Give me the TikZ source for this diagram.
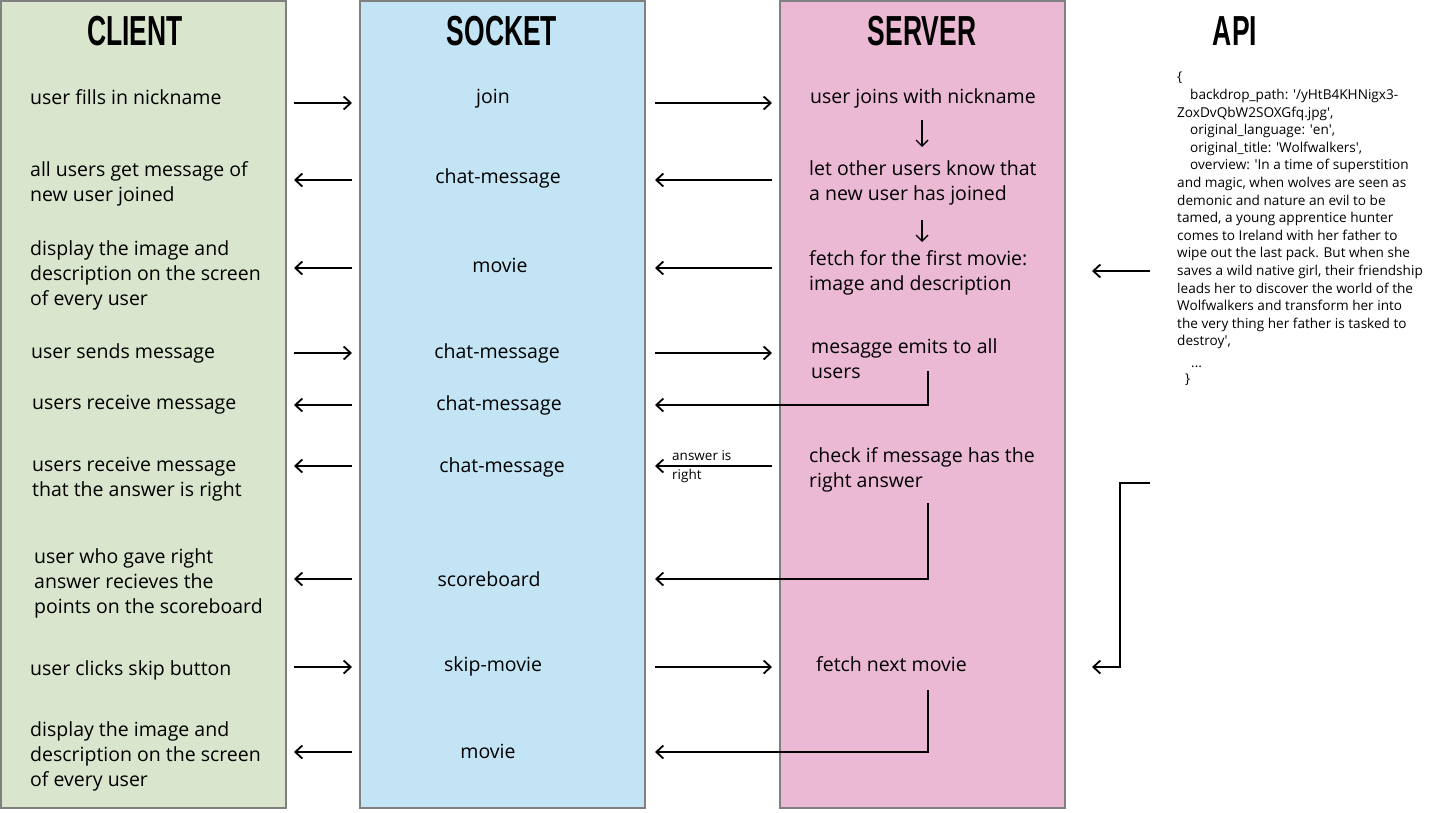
\documentclass[tikz,border=0pt]{standalone}
\usepackage{fontspec}
\setmainfont{Open Sans}
\newfontfamily\headfont[FakeStretch=0.63]{Liberation Sans}
\usetikzlibrary{positioning,arrows.meta}
\definecolor{clientgreen}{RGB}{217,229,204}
\definecolor{socketblue}{RGB}{194,228,244}
\definecolor{serverpink}{RGB}{235,185,212}
\definecolor{lanegray}{RGB}{128,128,128}
\tikzstyle{lane}=[rectangle, draw=lanegray, line width=1.5pt, outer sep=0pt, inner sep=0pt,
                  minimum width=285pt, minimum height=807pt]
\tikzstyle{ltitle}=[anchor=base, inner sep=0pt, font=\headfont\bfseries\fontsize{42}{42}\selectfont]
\tikzstyle{ltext}=[anchor=base west, inner sep=0pt, align=left, font=\fontsize{19.5}{25}\selectfont]
\tikzstyle{slabel}=[anchor=base, inner sep=0pt, font=\fontsize{19.5}{25}\selectfont]
\tikzstyle{apitext}=[anchor=base west, inner sep=0pt, align=left, font=\fontsize{13.6}{17.6}\selectfont]
\tikzstyle{smalltext}=[anchor=base west, inner sep=0pt, align=left, font=\fontsize{13.5}{19}\selectfont]
\tikzstyle{parrow}=[-{Straight Barb[length=7pt,width=13pt]}, line width=1.8pt]
\tikzstyle{darrow}=[-{Straight Barb[length=6pt,width=12pt]}, line width=1.4pt]

\begin{document}
\begin{tikzpicture}[x=1pt, y=-1pt]
\useasboundingbox (0,0) rectangle (1431,812);

\node (CLNT) [lane, fill=clientgreen, anchor=north west] at (1,1) {};
\node (SCKT) [lane, fill=socketblue, right=74pt of CLNT] {};
\node (SRVR) [lane, fill=serverpink, right=135pt of SCKT] {};

\node (CLNTt) [ltitle] at (135,45) {CLIENT};
\node (SCKTt) [ltitle] at (502,45) {SOCKET};
\node (SRVRt) [ltitle] at (922,45) {SERVER};
\node (APIt) [ltitle] at (1235,45) {API};

\node (CL1) [ltext] at (30,104) {user fills in nickname};
\node (CL2) [ltext] at (30,201) {all users get message of\\new user joined};
\node (CL3) [ltext] at (30,305) {display the image and\\description on the screen\\of every user};
\node (CL4) [ltext] at (31,358) {user sends message};
\node (CL5) [ltext] at (32,409) {users receive message};
\node (CL6) [ltext] at (32,496) {users receive message\\that the answer is right};
\node (CL7) [ltext] at (34,613) {user who gave right\\answer recieves the\\points on the scoreboard};
\node (CL8) [ltext] at (30,675) {user clicks skip button};
\node (CL9) [ltext] at (30,786) {display the image and\\description on the screen\\of every user};

\node (SK1) [slabel] at (493,103) {join};
\node (SK2) [slabel] at (498,183) {chat-message};
\node (SK3) [slabel] at (500,272) {movie};
\node (SK4) [slabel] at (497,358) {chat-message};
\node (SK5) [slabel] at (499,410) {chat-message};
\node (SK6) [slabel] at (502,472) {chat-message};
\node (SK7) [slabel] at (489,586) {scoreboard};
\node (SK8) [slabel] at (493,671) {skip-movie};
\node (SK9) [slabel] at (488,758) {movie};

\node (SV1) [ltext] at (810,103) {user joins with nickname};
\node (SV2) [ltext] at (809,200) {let other users know that\\a new user has joined};
\node (SV3) [ltext] at (809,290) {fetch for the first movie:\\image and description};
\node (SV4) [ltext] at (811,378) {mesagge emits to all\\users};
\node (SV5) [ltext] at (809,487) {check if message has the\\right answer};
\node (SV6) [ltext] at (816,671) {fetch next movie};

\node (ANSW) [smalltext] at (672,479) {answer is\\right};

\node (APIjs) [apitext] at (1177,383) {\{\\
\hspace*{13pt}backdrop\_path: \textquotesingle/yHtB4KHNigx3-\\
ZoxDvQbW2SOXGfq.jpg\textquotesingle,\\
\hspace*{13pt}original\_language: \textquotesingle en\textquotesingle,\\
\hspace*{13pt}original\_title: \textquotesingle Wolfwalkers\textquotesingle,\\
\hspace*{13pt}overview: \textquotesingle In a time of superstition\\
and magic, when wolves are seen as\\
demonic and nature an evil to be\\
tamed, a young apprentice hunter\\
comes to Ireland with her father to\\
wipe out the last pack. But when she\\
saves a wild native girl, their friendship\\
leads her to discover the world of the\\
Wolfwalkers and transform her into\\
the very thing her father is tasked to\\
destroy\textquotesingle,\\[4pt]
\hspace*{14pt}...\\[-2pt]
\hspace*{8pt}\}};

\coordinate (R1) at (0,103);
\coordinate (R2) at (0,180);
\coordinate (R3) at (0,268);
\coordinate (R4) at (0,353);
\coordinate (R5) at (0,405);
\coordinate (R6) at (0,466);
\coordinate (R7) at (0,579);
\coordinate (R8) at (0,667);
\coordinate (R9) at (0,752);
\coordinate (svmid) at (922,0);
\coordinate (emitA) at (928,371);
\coordinate (checkA) at (928,503);
\coordinate (nextA) at (928,690);
\coordinate (apiA) at (1150,271);
\coordinate (apiB) at (1150,483);

\draw[parrow] ([xshift=8pt]CLNT.east |- R1) -- ([xshift=-8pt]SCKT.west |- R1);
\draw[parrow] ([xshift=-8pt]SCKT.west |- R2) -- ([xshift=8pt]CLNT.east |- R2);
\draw[parrow] ([xshift=-8pt]SCKT.west |- R3) -- ([xshift=8pt]CLNT.east |- R3);
\draw[parrow] ([xshift=8pt]CLNT.east |- R4) -- ([xshift=-8pt]SCKT.west |- R4);
\draw[parrow] ([xshift=-8pt]SCKT.west |- R5) -- ([xshift=8pt]CLNT.east |- R5);
\draw[parrow] ([xshift=-8pt]SCKT.west |- R6) -- ([xshift=8pt]CLNT.east |- R6);
\draw[parrow] ([xshift=-8pt]SCKT.west |- R7) -- ([xshift=8pt]CLNT.east |- R7);
\draw[parrow] ([xshift=8pt]CLNT.east |- R8) -- ([xshift=-8pt]SCKT.west |- R8);
\draw[parrow] ([xshift=-8pt]SCKT.west |- R9) -- ([xshift=8pt]CLNT.east |- R9);

\draw[parrow] ([xshift=10pt]SCKT.east |- R1) -- ([xshift=-8pt]SRVR.west |- R1);
\draw[parrow] ([xshift=-8pt]SRVR.west |- R2) -- ([xshift=10pt]SCKT.east |- R2);
\draw[parrow] ([xshift=-8pt]SRVR.west |- R3) -- ([xshift=10pt]SCKT.east |- R3);
\draw[parrow] ([xshift=10pt]SCKT.east |- R4) -- ([xshift=-8pt]SRVR.west |- R4);
\draw[parrow] (emitA) |- ([xshift=10pt]SCKT.east |- R5);
\draw[parrow] ([xshift=-8pt]SRVR.west |- R6) -- ([xshift=10pt]SCKT.east |- R6);
\draw[parrow] (checkA) |- ([xshift=10pt]SCKT.east |- R7);
\draw[parrow] ([xshift=10pt]SCKT.east |- R8) -- ([xshift=-8pt]SRVR.west |- R8);
\draw[parrow] (nextA) |- ([xshift=10pt]SCKT.east |- R9);

\draw[darrow] ([yshift=-17pt]SV1.base -| svmid) -- ([yshift=53pt]SV2.base -| svmid);
\draw[darrow] ([yshift=-20pt]SV2.base -| svmid) -- ([yshift=48pt]SV3.base -| svmid);

\draw[parrow] (apiA) -- ([xshift=27pt]SRVR.east |- apiA);
\draw[parrow] (apiB) -- ++(-30,0) |- ([xshift=27pt]SRVR.east |- R8);

\end{tikzpicture}
\end{document}
